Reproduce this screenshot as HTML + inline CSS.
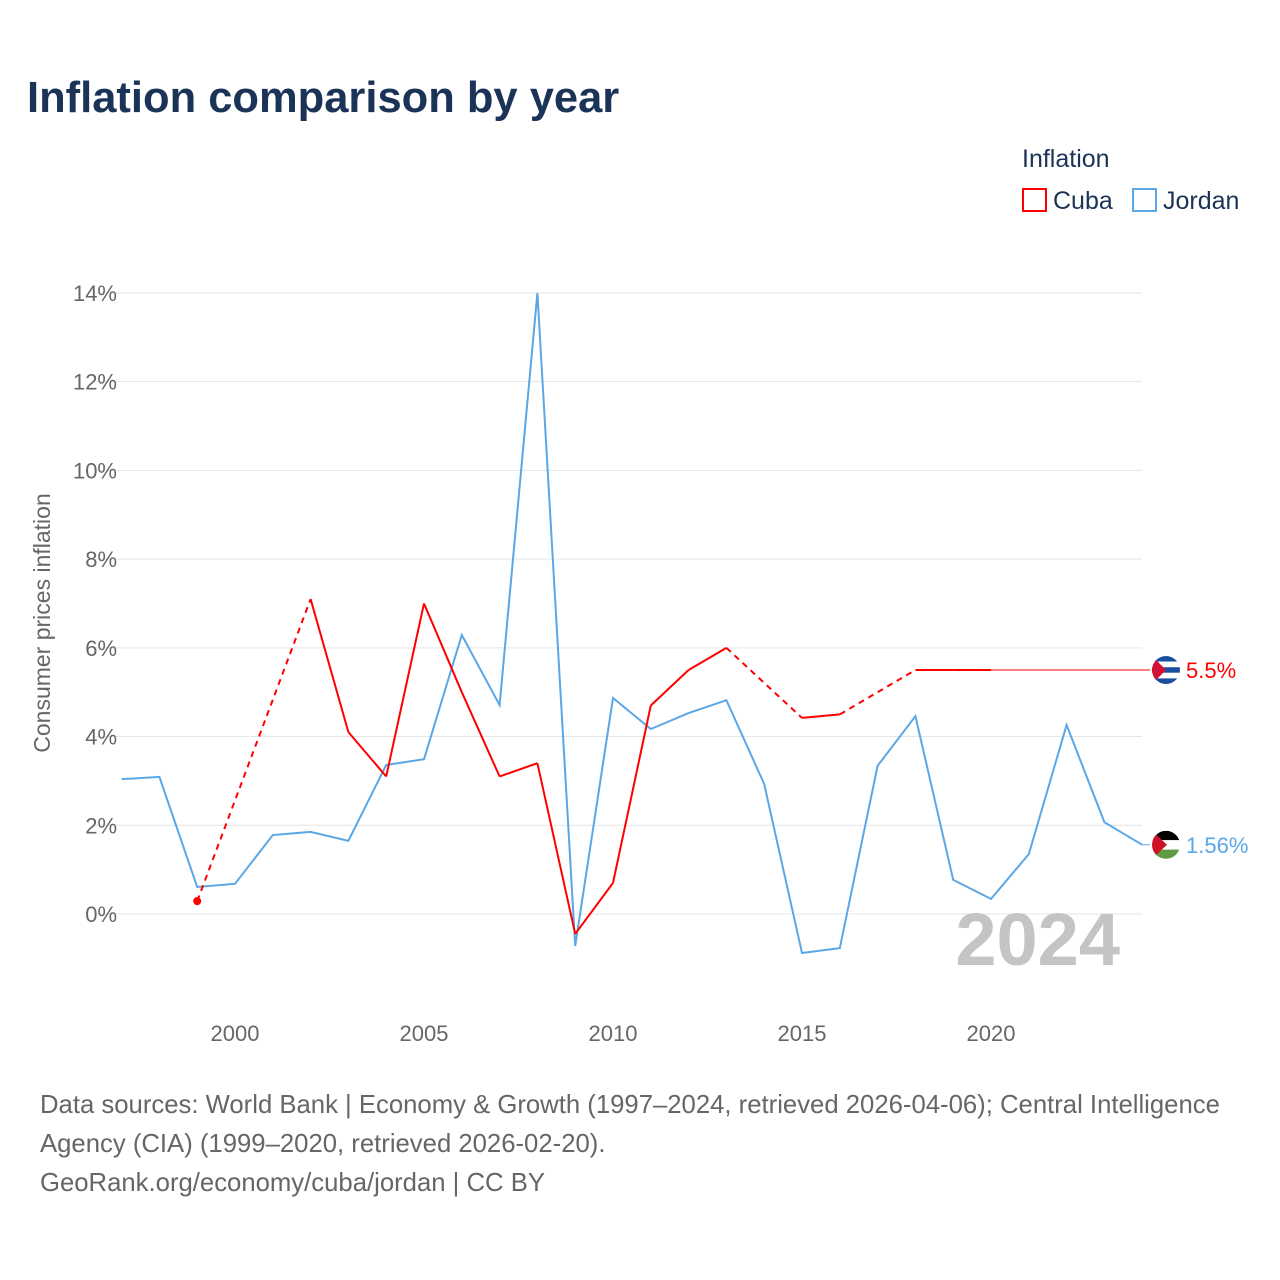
<!DOCTYPE html>
<html><head><meta charset="utf-8">
<style>
body{margin:0;background:#fff;font-family:"Liberation Sans",sans-serif;}
#wrap{position:relative;width:1280px;height:1280px;overflow:hidden;}
</style></head>
<body><div id="wrap">
<svg id="chart" width="1280" height="1280">
<text x="27" y="112" font-size="43.5" font-weight="bold" fill="#1a3356">Inflation comparison by year</text>
<text x="1022" y="167" font-size="25" fill="#1a3356">Inflation</text>
<g><rect x="1023" y="189" width="23" height="22" fill="none" stroke="#ff0000" stroke-width="2"/><text x="1053" y="209" font-size="25" fill="#1a3356">Cuba</text></g>
<g><rect x="1133" y="189" width="23" height="22" fill="none" stroke="#5aa7e8" stroke-width="2"/><text x="1163" y="209" font-size="25" fill="#1a3356">Jordan</text></g>
<g id="grid"></g><g id="xt"></g><g id="series"></g>
<text transform="translate(50,623) rotate(-90)" text-anchor="middle" font-size="23" fill="#666">Consumer prices inflation</text>
<text x="1120" y="965" text-anchor="end" font-size="74" font-weight="bold" fill="#c4c4c4">2024</text>
<text x="40" y="1113" font-size="25.7" fill="#666">Data sources: World Bank | Economy &amp; Growth (1997–2024, retrieved 2026-04-06); Central Intelligence</text>
<text x="40" y="1152" font-size="25.7" fill="#666">Agency (CIA) (1999–2020, retrieved 2026-02-20).</text>
<text x="40" y="1191" font-size="25.7" fill="#666">GeoRank.org/economy/cuba/jordan | CC BY</text>
</svg></div>
<script>
const years=[1997,1998,1999,2000,2001,2002,2003,2004,2005,2006,2007,2008,2009,2010,2011,2012,2013,2014,2015,2016,2017,2018,2019,2020,2021,2022,2023,2024];
const jordan=[3.04,3.09,0.61,0.68,1.78,1.85,1.65,3.36,3.49,6.29,4.71,14.0,-0.72,4.87,4.17,4.53,4.82,2.93,-0.88,-0.77,3.34,4.46,0.77,0.34,1.35,4.26,2.07,1.56];
const cuba=[null,null,0.29,null,null,7.1,4.1,3.1,7.0,5.0,3.1,3.4,-0.45,0.7,4.7,5.5,6.0,null,4.42,4.5,null,5.5,5.5,5.5,null,null,null,null];
const yTicks=[0,2,4,6,8,10,12,14];
const xTicks=[2000,2005,2010,2015,2020];
const NS="http://www.w3.org/2000/svg";
const x=y=>235+(y-2000)*37.8;
const yv=v=>914-v*44.36;
function mk(t,a,p){const e=document.createElementNS(NS,t);for(const k in a)e.setAttribute(k,a[k]);p.appendChild(e);return e;}
const grid=document.getElementById('grid');
yTicks.forEach(v=>{
 const l=mk('line',{x1:95,x2:1142,y1:yv(v),y2:yv(v),stroke:'#e6e6e6'},grid);
 
 
 const t=mk('text',{x:117,y:yv(v)+8,'text-anchor':'end','font-size':22,fill:'#666'},grid);t.textContent=v+'%';
 
 
});
const xt=document.getElementById('xt');
xTicks.forEach(v=>{
 const t=mk('text',{x:x(v),y:1041,'text-anchor':'middle','font-size':22,fill:'#666'},xt);t.textContent=v;
 
 
});
const S=document.getElementById('series');
let d=years.map((y,i)=>(i?'L':'M')+x(y)+','+yv(jordan[i])).join('');
const jp=mk('path',{d:d,fill:'none',stroke:'#5aa7e8','stroke-width':2},S);


let prev=-1;
cuba.forEach((v,i)=>{
 if(v===null)return;
 if(prev>=0){
  const gap=i-prev>1;
  const seg=mk('line',{x1:x(years[prev]),y1:yv(cuba[prev]),x2:x(years[i]),y2:yv(v),stroke:'#ff0000','stroke-width':2},S);
  if(gap)seg.setAttribute('stroke-dasharray','6,5');
  
  
 }
 prev=i;
});
const fi=cuba.findIndex(v=>v!==null);
const dot=mk('circle',{cx:x(years[fi]),cy:yv(cuba[fi]),r:4,fill:'#ff0000'},S);


const lastC=cuba[prev], lastJ=jordan[jordan.length-1];
mk('line',{x1:x(years[prev]),y1:yv(lastC),x2:1150,y2:yv(lastC),stroke:'#ff0000','stroke-width':1},S);
mk('line',{x1:x(2024),y1:yv(lastJ),x2:1150,y2:yv(lastJ),stroke:'#5aa7e8','stroke-width':1},S);
function flag(cy,kind,name){
 const g=mk('g',{},S);
 
 
 const cx=1166,r=14;
 const cp=mk('clipPath',{id:'c'+kind},g);mk('circle',{cx:cx,cy:cy,r:r},cp);
 const gg=mk('g',{'clip-path':'url(#c'+kind+')'},g);
 if(kind==='cu'){
  for(let k=0;k<5;k++)mk('rect',{x:cx-r,y:cy-r+k*5.6,width:28,height:5.6,fill:k%2?'#fff':'#1a4fa0'},gg);
  mk('polygon',{points:`${cx-r},${cy-r} ${cx},${cy} ${cx-r},${cy+r}`,fill:'#d21034'},gg);
 }else{
  mk('rect',{x:cx-r,y:cy-r,width:28,height:9.4,fill:'#000'},gg);
  mk('rect',{x:cx-r,y:cy-r+9.4,width:28,height:9.4,fill:'#fff'},gg);
  mk('rect',{x:cx-r,y:cy-r+18.8,width:28,height:9.4,fill:'#5f9b43'},gg);
  mk('polygon',{points:`${cx-r},${cy-r} ${cx+1},${cy} ${cx-r},${cy+r}`,fill:'#ce1126'},gg);
 }
}
flag(yv(lastC),'cu','cuba-flag');
flag(yv(lastJ),'jo','jordan-flag');
const lc=mk('text',{x:1186,y:yv(lastC)+8,'font-size':22,fill:'#ff0000'},S);lc.textContent=lastC+'%';


const lj=mk('text',{x:1186,y:yv(lastJ)+8,'font-size':22,fill:'#5aa7e8'},S);lj.textContent=lastJ+'%';


</script>
</body></html>
